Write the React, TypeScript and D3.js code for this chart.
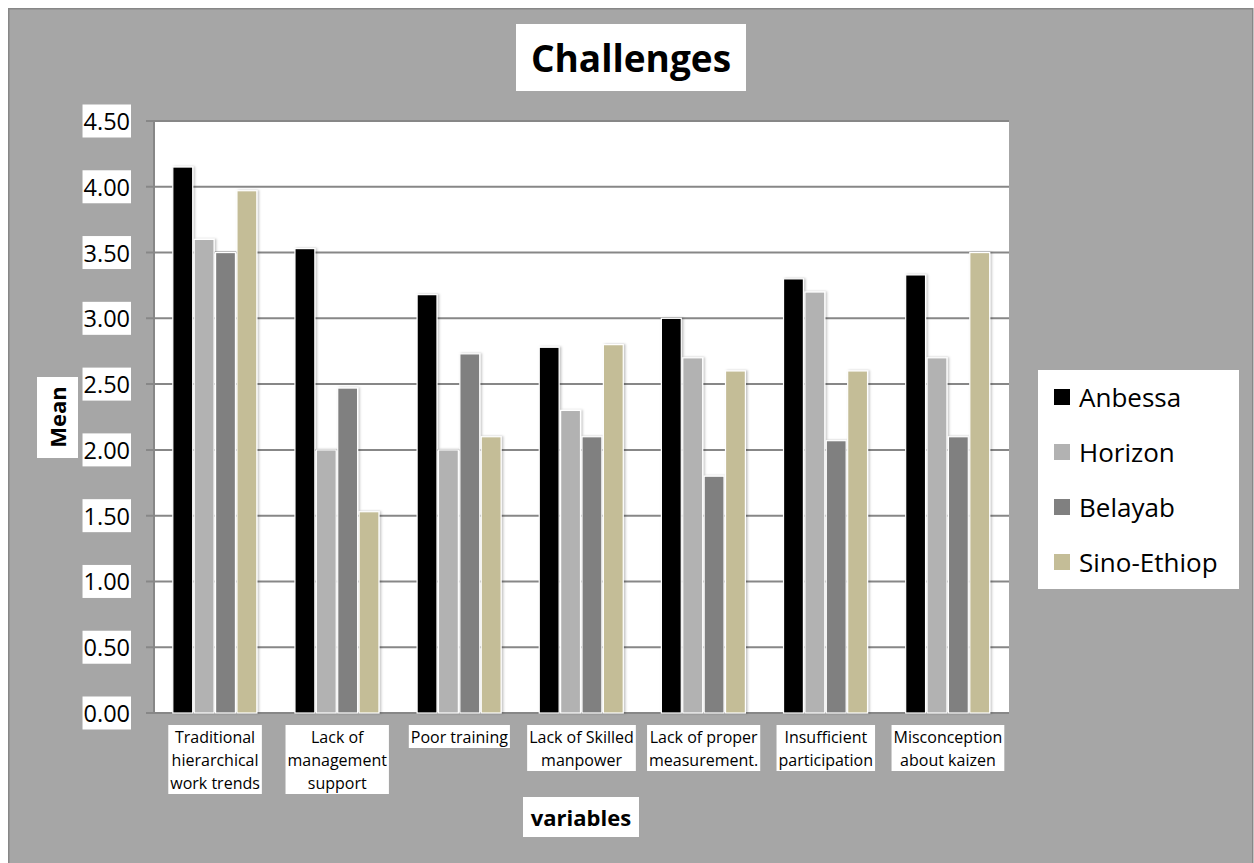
import React from "react";
import * as d3 from "d3";

// Chart data
const categories: string[][] = [
  ["Traditional", "hierarchical", "work trends"],
  ["Lack of", "management", "support"],
  ["Poor training"],
  ["Lack of Skilled", "manpower"],
  ["Lack of proper", "measurement."],
  ["Insufficient", "participation"],
  ["Misconception", "about kaizen"],
];
const seriesNames = ["Anbessa", "Horizon", "Belayab", "Sino-Ethiop"];
const anbessa = [4.15, 3.53, 3.18, 2.78, 3.0, 3.3, 3.33];
const horizon = [3.6, 2.0, 2.0, 2.3, 2.7, 3.2, 2.7];
const belayab = [3.5, 2.47, 2.73, 2.1, 1.8, 2.07, 2.1];
const sinoEthiop = [3.97, 1.53, 2.1, 2.8, 2.6, 2.6, 3.5];
const yTicks = [0, 0.5, 1, 1.5, 2, 2.5, 3, 3.5, 4, 4.5];
const colors = ["#000000", "#b2b2b2", "#808080", "#c4bd97"];

const seriesValues = [anbessa, horizon, belayab, sinoEthiop];
const FONT = "'Open Sans', 'Noto Sans', sans-serif";

let measureCtx: CanvasRenderingContext2D | null = null;
function textWidth(s: string, font: string): number {
  if (!measureCtx) measureCtx = document.createElement("canvas").getContext("2d");
  if (!measureCtx) return s.length * 8;
  measureCtx.font = font;
  return measureCtx.measureText(s).width;
}

export default function App() {
  const W = 1254;
  const H = 863;
  const plot = { left: 154, right: 1009, top: 121, bottom: 713 };

  const y = d3.scaleLinear().domain([0, 4.5]).range([plot.bottom, plot.top]);
  const x0 = d3
    .scaleBand<number>()
    .domain(d3.range(categories.length))
    .range([plot.left, plot.right])
    .paddingInner(0.3)
    .paddingOuter(0.15);
  const x1 = d3
    .scaleBand<number>()
    .domain(d3.range(seriesNames.length))
    .range([0, x0.bandwidth()]);

  const xLabelSize = 16;
  const xLabelFont = `${xLabelSize}px ${FONT}`;
  const tickSize = 23.5;

  return (
    <svg
      width={W}
      height={H}
      style={{ position: "absolute", left: 0, top: 0 }}
      fontFamily={FONT}
    >
      <defs>
        <filter id="barShadow" x="-30%" y="-5%" width="160%" height="110%">
          <feDropShadow dx="1.5" dy="0" stdDeviation="1.2" floodColor="#000" floodOpacity="0.25" />
        </filter>
      </defs>
      <rect x={0} y={0} width={W} height={H} fill="#ffffff" />
      {/* chart area */}
      <rect x={8.75} y={8.75} width={1244} height={880} fill="#a6a6a6" stroke="#878787" strokeWidth={1.5} />

      {/* title */}
      <rect x={516} y={24} width={230} height={67} fill="#fff" />
      <text x={631} y={57} textAnchor="middle" dominantBaseline="central" fontSize={37} fontWeight="bold" fill="#000">
        Challenges
      </text>

      {/* plot area */}
      <rect x={plot.left} y={plot.top} width={plot.right - plot.left} height={plot.bottom - plot.top} fill="#fff" />

      {/* gridlines and ticks */}
      {yTicks.map((t) => (
        <line key={"g" + t} x1={plot.left - 8} x2={plot.right} y1={y(t)} y2={y(t)} stroke="#878787" strokeWidth={2} />
      ))}
      <line x1={plot.left} x2={plot.left} y1={plot.top} y2={plot.bottom} stroke="#878787" strokeWidth={2} />

      {/* y tick labels */}
      {yTicks.map((t) => {
        const label = t.toFixed(2);
        const w = textWidth(label, `${tickSize}px ${FONT}`);
        return (
          <g key={"t" + t}>
            <rect x={130 - w - 1} y={y(t) - 16.5} width={w + 2} height={33} fill="#fff" />
            <text x={130} y={y(t)} textAnchor="end" dominantBaseline="central" fontSize={tickSize} fill="#000">
              {label}
            </text>
          </g>
        );
      })}

      {/* bars */}
      {categories.map((_, ci) => (
        <g key={"c" + ci} transform={`translate(${x0(ci)},0)`}>
          {seriesValues.map((vals, si) => (
            <rect
              key={si}
              x={(x1(si) as number) + 0.5}
              y={y(vals[ci])}
              width={x1.bandwidth() - 1.5}
              height={y(0) - y(vals[ci])}
              fill={colors[si]}
              stroke="#fff"
              strokeWidth={1.2}
              filter="url(#barShadow)"
            />
          ))}
        </g>
      ))}

      {/* x category labels */}
      {categories.map((lines, ci) => {
        const cx = (x0(ci) as number) + x0.bandwidth() / 2;
        const w = Math.max(...lines.map((l) => textWidth(l, xLabelFont)));
        const top = 725;
        const lh = 23;
        return (
          <g key={"xl" + ci}>
            <rect x={cx - w / 2 - 2} y={top} width={w + 4} height={lines.length * lh} fill="#fff" />
            {lines.map((l, li) => (
              <text
                key={li}
                x={cx}
                y={top + lh * li + lh / 2}
                textAnchor="middle"
                dominantBaseline="central"
                fontSize={xLabelSize}
                fill="#000"
              >
                {l}
              </text>
            ))}
          </g>
        );
      })}

      {/* axis titles */}
      <rect x={523} y={797} width={116} height={40} fill="#fff" />
      <text x={581} y={817} textAnchor="middle" dominantBaseline="central" fontSize={22} fontWeight="bold">
        variables
      </text>
      <rect x={37} y={377} width={41} height={81} fill="#fff" />
      <text
        transform="translate(57,417) rotate(-90)"
        textAnchor="middle"
        dominantBaseline="central"
        fontSize={22}
        fontWeight="bold"
      >
        Mean
      </text>

      {/* legend */}
      <rect x={1038} y={370} width={201} height={219} fill="#fff" />
      {seriesNames.map((name, i) => {
        const cy = 397 + i * 55;
        return (
          <g key={name}>
            <rect x={1054} y={cy - 8} width={16} height={16} fill={colors[i]} />
            <text x={1079} y={cy} dominantBaseline="central" fontSize={26} fill="#000">
              {name}
            </text>
          </g>
        );
      })}
    </svg>
  );
}
